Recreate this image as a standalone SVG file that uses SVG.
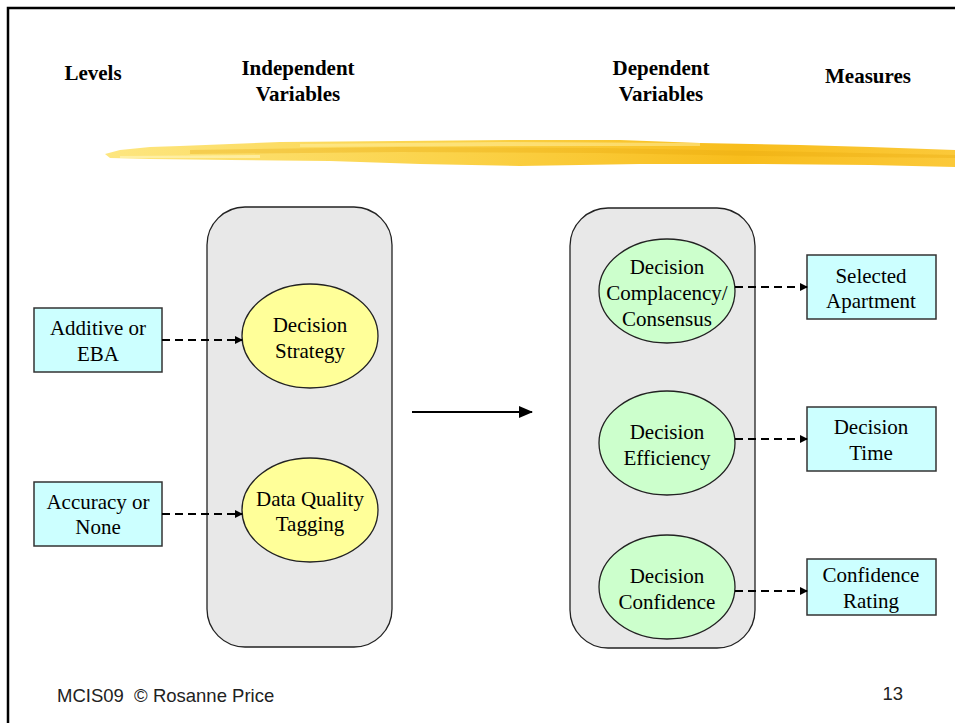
<svg xmlns="http://www.w3.org/2000/svg" width="955" height="723" viewBox="0 0 955 723">
<style>
.hd{font-family:"Liberation Serif",serif;font-weight:bold;font-size:21px;text-anchor:middle;fill:#000}
.t{font-family:"Liberation Serif",serif;font-size:21px;text-anchor:middle;fill:#000}
.box{fill:#ccffff;stroke:#333;stroke-width:1.5}
.yel{fill:#ffff99;stroke:#222;stroke-width:1.3}
.grn{fill:#ccffcc;stroke:#222;stroke-width:1.3}
.grp{fill:#e8e8e8;stroke:#222;stroke-width:1.3}
.dash{stroke:#000;stroke-width:2;stroke-dasharray:8,5;fill:none;marker-end:url(#ah)}
.ft{font-family:"Liberation Sans",sans-serif;font-size:18.5px;fill:#222;white-space:pre}
</style>
<defs>
<marker id="ah" markerWidth="8" markerHeight="8" refX="7" refY="4" orient="auto" markerUnits="userSpaceOnUse">
<path d="M0,0 L8,4 L0,8 z" fill="#000"/>
</marker>
<marker id="ah2" markerWidth="14" markerHeight="12" refX="13" refY="6" orient="auto" markerUnits="userSpaceOnUse">
<path d="M0,0 L14,6 L0,12 z" fill="#000"/>
</marker>
<linearGradient id="brush" x1="0" y1="0" x2="1" y2="0">
<stop offset="0" stop-color="#fde680"/>
<stop offset="0.4" stop-color="#fbd34a"/>
<stop offset="0.75" stop-color="#f8bd1c"/>
<stop offset="1" stop-color="#fbc93a"/>
</linearGradient>
</defs>
<rect width="955" height="723" fill="#fff"/>
<path d="M8,723 L8,8 L955,8" fill="none" stroke="#000" stroke-width="2.5"/>
<g id="brushstroke">
<path d="M105,154 L120,150 L150,147 L180,146 L280,142 L400,141 L520,140 L620,140 L700,143 L800,145 L870,147 L955,150 L955,167 L870,165 L760,164 L640,164 L520,166 L420,164 L330,161 L230,160 L150,159 L110,158 Z" fill="url(#brush)"/>
<path d="M190,150 L400,147 L600,148 L760,151 L955,155 L955,158 L760,156 L600,153 L400,152 L190,154 Z" fill="#e9a90f" opacity="0.35"/>
<path d="M300,144 L500,142 L700,143 L700,146 L500,146 L300,147 Z" fill="#fff1a8" opacity="0.5"/>
<path d="M120,156 L260,155 L260,158 L120,158 Z" fill="#fff6c0" opacity="0.6"/>
</g>
<g id="headers">
<text class="hd" x="93" y="80">Levels</text>
<text class="hd" x="298" y="75">Independent</text>
<text class="hd" x="298" y="101">Variables</text>
<text class="hd" x="661" y="75">Dependent</text>
<text class="hd" x="661" y="101">Variables</text>
<text class="hd" x="868" y="83">Measures</text>
</g>
<g id="indep-group"><rect class="grp" x="207" y="207" width="185" height="440" rx="38"/></g>
<g id="dep-group"><rect class="grp" x="570" y="208" width="185" height="440" rx="38"/></g>
<g id="additive"><rect class="box" x="34" y="308" width="128" height="64"/>
<text class="t" x="98" y="335">Additive or</text><text class="t" x="98" y="361">EBA</text></g>
<g id="accuracy"><rect class="box" x="34" y="482" width="128" height="64"/>
<text class="t" x="98" y="509">Accuracy or</text><text class="t" x="98" y="534">None</text></g>
<g id="strategy"><ellipse class="yel" cx="310" cy="336" rx="68" ry="52"/>
<text class="t" x="310" y="332">Decision</text><text class="t" x="310" y="358">Strategy</text></g>
<g id="tagging"><ellipse class="yel" cx="310" cy="510" rx="68" ry="52"/>
<text class="t" x="310" y="506">Data Quality</text><text class="t" x="310" y="531">Tagging</text></g>
<g id="complacency"><ellipse class="grn" cx="667" cy="291" rx="68" ry="52"/>
<text class="t" x="667" y="274">Decision</text><text class="t" x="667" y="300">Complacency/</text><text class="t" x="667" y="326">Consensus</text></g>
<g id="efficiency"><ellipse class="grn" cx="667" cy="443" rx="68" ry="52"/>
<text class="t" x="667" y="439">Decision</text><text class="t" x="667" y="465">Efficiency</text></g>
<g id="confidence"><ellipse class="grn" cx="667" cy="587" rx="68" ry="52"/>
<text class="t" x="667" y="583">Decision</text><text class="t" x="667" y="609">Confidence</text></g>
<g id="apartment"><rect class="box" x="807" y="255" width="129" height="64"/>
<text class="t" x="871" y="283">Selected</text><text class="t" x="871" y="308">Apartment</text></g>
<g id="time"><rect class="box" x="807" y="407" width="129" height="64"/>
<text class="t" x="871" y="434">Decision</text><text class="t" x="871" y="460">Time</text></g>
<g id="rating"><rect class="box" x="807" y="559" width="129" height="56"/>
<text class="t" x="871" y="582">Confidence</text><text class="t" x="871" y="608">Rating</text></g>
<g id="connectors">
<line class="dash" x1="162" y1="340" x2="242" y2="340"/>
<line class="dash" x1="162" y1="514" x2="242" y2="514"/>
<line class="dash" x1="735" y1="287" x2="807" y2="287"/>
<line class="dash" x1="735" y1="439" x2="807" y2="439"/>
<line class="dash" x1="735" y1="591" x2="807" y2="591"/>
<line x1="412" y1="412" x2="532" y2="412" stroke="#000" stroke-width="2" marker-end="url(#ah2)"/>
</g>
<g id="footer">
<text class="ft" x="57" y="702">MCIS09  © Rosanne Price</text>
<text class="ft" x="903" y="700" text-anchor="end">13</text>
</g>
</svg>
